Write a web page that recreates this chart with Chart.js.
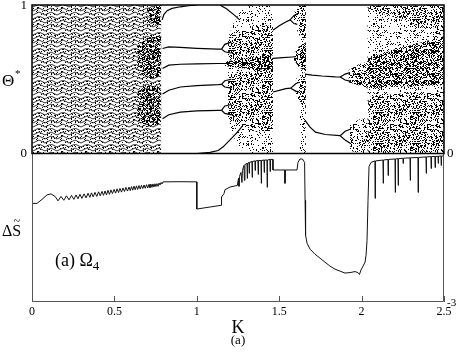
<!DOCTYPE html>
<html lang="en">
  <head>
    <meta charset="utf-8" />
    <title>Theta* and entropy change vs K</title>
    <script src="https://cdn.jsdelivr.net/npm/chart.js/dist/chart.umd.min.js"></script>
    <style>
      * { margin: 0; padding: 0; }
      body { background: #fff; }
      canvas { display: block; }
    </style>
  </head>
  <body>
    <canvas id="myChart" width="459" height="354"></canvas>
    <script>
      // K axis, units of 1e-3
      const kTicks = [0, 0.5, 1, 1.5, 2, 2.5];

      // lower panel: entropy change [K, dS], scaled so the panel bottom is -1
      const deltaS = [
        [0,-0.336],[0.030,-0.336],[0.061,-0.309],[0.091,-0.279],[0.115,-0.272],[0.140,-0.289],
        [0.158,-0.319],[0.176,-0.289],[0.193,-0.315],[0.209,-0.285],[0.225,-0.312],[0.240,-0.282],
        [0.254,-0.309],[0.267,-0.279],[0.279,-0.305],[0.291,-0.275],[0.303,-0.302],[0.316,-0.272],
        [0.328,-0.299],[0.340,-0.268],[0.351,-0.295],[0.361,-0.265],[0.371,-0.292],[0.382,-0.262],
        [0.393,-0.289],[0.404,-0.258],[0.414,-0.285],[0.425,-0.255],[0.434,-0.282],[0.443,-0.252],
        [0.452,-0.279],[0.461,-0.248],[0.470,-0.275],[0.479,-0.245],[0.488,-0.270],[0.498,-0.242],
        [0.507,-0.267],[0.516,-0.238],[0.525,-0.263],[0.534,-0.235],[0.543,-0.260],[0.552,-0.232],
        [0.561,-0.256],[0.570,-0.228],[0.579,-0.253],[0.589,-0.226],[0.596,-0.250],[0.604,-0.223],
        [0.611,-0.247],[0.619,-0.220],[0.626,-0.244],[0.634,-0.218],[0.641,-0.242],[0.649,-0.216],
        [0.657,-0.239],[0.664,-0.214],[0.672,-0.236],[0.680,-0.212],[0.687,-0.234],[0.695,-0.210],
        [0.702,-0.232],[0.710,-0.208],[0.716,-0.230],[0.722,-0.207],[0.728,-0.228],[0.734,-0.205],
        [0.740,-0.226],[0.746,-0.204],[0.752,-0.223],[0.758,-0.203],[0.765,-0.221],[0.771,-0.199],
        [0.777,-0.212],[0.783,-0.195],[0.789,-0.205],[0.795,-0.191],
        [0.898,-0.190],[1.0,-0.191],[1.0,-0.374],[1.147,-0.349],[1.150,-0.293],[1.165,-0.270],
        [1.171,-0.244],[1.201,-0.226],[1.246,-0.215],
        [1.253,-0.168],[1.256,-0.221],[1.259,-0.154],[1.268,-0.128],[1.274,-0.195],[1.277,-0.114],
        [1.286,-0.081],[1.289,-0.181],[1.292,-0.074],[1.305,-0.067],[1.306,-0.168],[1.308,-0.067],
        [1.317,-0.060],[1.318,-0.134],[1.320,-0.060],[1.335,-0.054],[1.336,-0.161],[1.338,-0.054],
        [1.353,-0.050],[1.354,-0.114],[1.356,-0.050],[1.371,-0.047],[1.373,-0.141],[1.374,-0.047],
        [1.390,-0.047],[1.391,-0.201],[1.393,-0.047],[1.408,-0.044],[1.409,-0.128],[1.411,-0.044],
        [1.426,-0.044],[1.427,-0.228],[1.429,-0.044],[1.444,-0.040],[1.445,-0.121],[1.447,-0.040],
        [1.462,-0.040],[1.462,-0.111],[1.535,-0.111],[1.535,-0.201],[1.537,-0.111],[1.608,-0.111],
        [1.614,-0.060],[1.626,-0.037],[1.641,-0.037],[1.654,-0.060],[1.657,-0.315],[1.660,-0.550],
        [1.669,-0.604],[1.687,-0.644],[1.717,-0.678],[1.748,-0.705],[1.778,-0.732],[1.808,-0.758],
        [1.839,-0.779],[1.869,-0.792],[1.899,-0.805],[1.930,-0.802],[1.960,-0.795],[1.978,-0.802],
        [1.987,-0.815],[1.996,-0.785],[2.009,-0.758],[2.021,-0.732],[2.027,-0.685],[2.033,-0.584],
        [2.039,-0.315],[2.045,-0.087],[2.057,-0.060],
        [2.081,-0.050],[2.082,-0.302],[2.084,-0.050],[2.130,-0.044],[2.131,-0.201],[2.133,-0.044],
        [2.160,-0.040],[2.161,-0.148],[2.163,-0.040],[2.203,-0.037],[2.204,-0.262],[2.206,-0.037],
        [2.221,-0.035],[2.222,-0.215],[2.224,-0.035],[2.251,-0.032],[2.252,-0.067],[2.254,-0.032],
        [2.294,-0.029],[2.295,-0.181],[2.297,-0.029],[2.342,-0.027],[2.343,-0.262],[2.345,-0.027],
        [2.391,-0.023],[2.392,-0.134],[2.394,-0.023],[2.421,-0.021],[2.422,-0.101],[2.424,-0.021],
        [2.445,-0.020],[2.446,-0.094],[2.448,-0.020],[2.464,-0.019],[2.465,-0.067],[2.467,-0.019],
        [2.482,-0.017],[2.483,-0.081],[2.485,-0.017],[2.5,-0.017]
      ];

      // upper panel: periodic branches of Theta* [K, theta]
      const p6a = [[0.790,0.90],[0.80,0.935],[0.82,0.962],[0.85,0.977],[0.90,0.988],[0.95,0.995],[1.0,1.0]];
      const p6b = [[0.792,0.707],[0.83,0.718],[0.90,0.714],[1.0,0.708],[1.13,0.703],[1.15,0.703]];
      const p6c = [[0.792,0.572],[0.83,0.595],[0.90,0.601],[1.0,0.604],[1.13,0.606],[1.22,0.606]];
      const p6d = [[0.792,0.40],[0.83,0.426],[0.90,0.448],[1.0,0.457],[1.13,0.464],[1.15,0.466]];
      const p6e = [[0.792,0.234],[0.83,0.261],[0.90,0.279],[1.0,0.287],[1.13,0.291],[1.15,0.291]];
      const p6f = [[1.0,0.0],[1.08,0.008],[1.13,0.02],[1.16,0.045],[1.20,0.09],[1.24,0.135],[1.28,0.19]];
      const p6top = [[1.14,1.0],[1.18,0.975],[1.23,0.93],[1.26,0.90]];
      const p6bUp = [[1.15,0.703],[1.17,0.735],[1.21,0.75]];
      const p6bDn = [[1.15,0.703],[1.17,0.685],[1.21,0.675]];
      const p6dUp = [[1.15,0.466],[1.17,0.49],[1.21,0.50]];
      const p6dDn = [[1.15,0.466],[1.17,0.448],[1.21,0.44]];
      const p6eUp = [[1.15,0.291],[1.17,0.32],[1.21,0.33]];
      const p6eDn = [[1.15,0.291],[1.17,0.27],[1.21,0.26]];
      const p3a = [[1.462,0.83],[1.50,0.86],[1.54,0.885],[1.566,0.90]];
      const p3aUp = [[1.566,0.90],[1.59,0.93],[1.61,0.94]];
      const p3aDn = [[1.566,0.90],[1.59,0.875],[1.61,0.87]];
      const p3b = [[1.462,0.64],[1.52,0.645],[1.58,0.65],[1.60,0.652]];
      const p3c = [[1.462,0.414],[1.50,0.425],[1.54,0.437],[1.57,0.44]];
      const p3cUp = [[1.57,0.44],[1.60,0.47],[1.62,0.48]];
      const p3cDn = [[1.57,0.44],[1.60,0.42],[1.62,0.415]];
      const p2u = [[1.657,0.534],[1.70,0.528],[1.76,0.522],[1.84,0.516],[1.87,0.515]];
      const p2uUp = [[1.87,0.515],[1.90,0.535],[1.93,0.545]];
      const p2uDn = [[1.87,0.515],[1.90,0.495],[1.93,0.487]];
      const p2l = [[1.657,0.223],[1.687,0.178],[1.72,0.144],[1.78,0.128],[1.87,0.12]];
      const p2lUp = [[1.87,0.12],[1.90,0.15],[1.935,0.165]];
      const p2lDn = [[1.87,0.12],[1.90,0.09],[1.935,0.066]];

      // upper panel: scattered (chaotic / quasi-periodic) bands [K, low, high]
      const quasiBand = [[0,0,1],[0.785,0,1]];
      const quasiDarkA = [[0.64,0.56,0.72],[0.70,0.50,0.78],[0.785,0.52,0.80]];
      const quasiDarkB = [[0.64,0.22,0.42],[0.70,0.18,0.46],[0.785,0.20,0.45]];
      const quasiDarkC = [[0.70,0.88,0.98],[0.785,0.86,1.0]];
      const chaosA = [[1.19,0.25,0.78],[1.22,0.12,0.87],[1.26,0.03,0.95],[1.30,0,1],[1.462,0,1]];
      const fanA = [[1.19,0.66,0.76],[1.25,0.60,0.82],[1.35,0.55,0.86],[1.462,0.50,0.86]];
      const fanB = [[1.19,0.25,0.51],[1.25,0.20,0.55],[1.35,0.15,0.55],[1.462,0.15,0.52]];
      const streakA = [[1.17,0.59,0.62],[1.30,0.57,0.64],[1.462,0.56,0.66]];
      const fanP3a = [[1.59,0.88,0.95],[1.62,0.80,1.0],[1.662,0.75,1.0]];
      const fanP3b = [[1.59,0.63,0.67],[1.62,0.58,0.72],[1.662,0.55,0.75]];
      const fanP3c = [[1.60,0.40,0.50],[1.63,0.33,0.53],[1.662,0.30,0.55]];
      const crisisStrip = [[1.625,0,1],[1.662,0,1]];
      const fanP2u = [[1.92,0.48,0.56],[1.98,0.46,0.60],[2.04,0.44,0.62]];
      const fanP2l = [[1.93,0.02,0.20],[1.99,0.0,0.23],[2.04,0,0.24]];
      const chaosB = [[2.035,0,1],[2.5,0,1]];
      const fanC = [[2.035,0.44,0.64],[2.2,0.45,0.70],[2.5,0.46,0.79]];
      const topC = [[2.04,0.97,1],[2.25,0.90,1],[2.5,0.79,1]];
      const lowC = [[2.04,0,0.38],[2.2,0,0.40],[2.5,0,0.42]];

      const serif = "'Liberation Serif', 'Times New Roman', serif";
      const ctx = document.getElementById("myChart").getContext("2d");

      // speckle textures for the scattered-point regions (styling only)
      function noise(i, j, seed) {
        const h = Math.sin(i * 12.9898 + j * 78.233 + seed * 37.719) * 43758.5453;
        return h - Math.floor(h);
      }
      function speckle(density, seed) {
        const c = document.createElement("canvas");
        c.width = 37; c.height = 31;
        const g = c.getContext("2d");
        g.fillStyle = "#000";
        for (let i = 0; i < c.width; i++)
          for (let j = 0; j < c.height; j++)
            if (noise(i, j, seed) < density) g.fillRect(i, j, 1, 1);
        return ctx.createPattern(c, "repeat");
      }
      const sparse = speckle(0.13, 1);
      const medium = speckle(0.24, 2);
      const dense = speckle(0.38, 3);
      const quasi = (() => {
        const c = document.createElement("canvas");
        c.width = 24; c.height = 16;
        const g = c.getContext("2d");
        g.strokeStyle = "#000"; g.lineWidth = 0.8;
        for (let r = 0; r < 4; r++) {
          const y0 = r * 4 + 1.5;
          g.beginPath();
          g.moveTo(0, y0);
          g.lineTo(3, y0 - 1.5); g.lineTo(6, y0); g.lineTo(9, y0 + 1.5);
          g.lineTo(12, y0); g.lineTo(15, y0 - 1.5); g.lineTo(18, y0);
          g.lineTo(21, y0 + 1.5); g.lineTo(24, y0);
          g.stroke();
        }
        g.fillStyle = "#000";
        for (let i = 0; i < c.width; i++)
          for (let j = 0; j < c.height; j++)
            if (noise(i, j, 9) < 0.12) g.fillRect(i, j, 1, 1);
        return ctx.createPattern(c, "repeat");
      })();

      const datasets = [];
      const xy = (arr) => arr.map(([k, v]) => ({ x: k, y: v }));

      function addLine(arr, width, color) {
        datasets.push({ data: xy(arr), borderColor: color || "#000", borderWidth: width || 1.2, fill: false, order: 0 });
      }
      function addBand(rows, pattern, order) {
        datasets.push({ data: rows.map(r => ({ x: r[0], y: r[1] })), borderWidth: 0, fill: false, order });
        datasets.push({ data: rows.map(r => ({ x: r[0], y: r[2] })), borderWidth: 0, backgroundColor: pattern, fill: "-1", order });
      }

      [p6a, p6b, p6c, p6d, p6e, p6f, p6top, p6bUp, p6bDn, p6dUp, p6dDn, p6eUp, p6eDn,
       p3a, p3aUp, p3aDn, p3b, p3c, p3cUp, p3cDn, p2u, p2uUp, p2uDn, p2l, p2lUp, p2lDn].forEach(b => addLine(b));
      addLine(deltaS, 1, "#111");

      addBand(quasiDarkA, dense, 1);
      addBand(quasiDarkB, dense, 1);
      addBand(quasiDarkC, dense, 1);
      addBand(streakA, dense, 1);
      addBand(fanC, dense, 1);
      addBand(fanA, medium, 2);
      addBand(fanB, medium, 2);
      addBand(fanP3a, medium, 2);
      addBand(fanP3b, dense, 2);
      addBand(fanP3c, medium, 2);
      addBand(fanP2u, dense, 2);
      addBand(fanP2l, medium, 2);
      addBand(topC, medium, 2);
      addBand(lowC, medium, 2);
      addBand(chaosA, sparse, 3);
      addBand(crisisStrip, sparse, 3);
      addBand(chaosB, sparse, 3);
      addBand(quasiBand, quasi, 4);

      const frame = {
        id: "frame",
        afterDatasetsDraw(chart) {
          const { ctx, chartArea: a, scales: { x, y } } = chart;
          const mid = y.getPixelForValue(0);
          ctx.save();
          // lower panel box and inward ticks
          ctx.strokeStyle = "#555";
          ctx.lineWidth = 1;
          ctx.beginPath();
          ctx.moveTo(a.left + 0.5, mid);
          ctx.lineTo(a.left + 0.5, a.bottom - 0.5);
          ctx.lineTo(a.right - 0.5, a.bottom - 0.5);
          ctx.lineTo(a.right - 0.5, mid);
          kTicks.forEach(k => {
            const px = Math.round(x.getPixelForValue(k)) + 0.5;
            ctx.moveTo(px, a.bottom);
            ctx.lineTo(px, a.bottom - 6);
          });
          ctx.stroke();
          // upper panel box
          ctx.strokeStyle = "#000";
          ctx.lineWidth = 1.5;
          ctx.strokeRect(a.left, a.top, a.right - a.left, mid - a.top);
          ctx.restore();
        },
        afterDraw(chart) {
          const { ctx, chartArea: a, scales: { y } } = chart;
          ctx.save();
          ctx.fillStyle = "#000";

          // Theta axis numbers (1 at top, 0 on the shared line, both sides)
          ctx.font = `13px ${serif}`;
          ctx.textBaseline = "middle";
          ctx.textAlign = "right";
          ctx.fillText("1", a.left - 5, y.getPixelForValue(1) + 1);
          ctx.fillText("0", a.left - 5, y.getPixelForValue(0));
          ctx.textAlign = "left";
          ctx.fillText("0", a.right + 3, y.getPixelForValue(0));

          ctx.textBaseline = "alphabetic";
          ctx.font = `17px ${serif}`;
          ctx.fillText("\u0398", 2, 86);
          ctx.font = `11px ${serif}`;
          ctx.fillText("*", 15, 77);

          ctx.font = `16px ${serif}`;
          ctx.fillText("\u0394S", 2, 236);
          const wd = ctx.measureText("\u0394").width;
          const ws = ctx.measureText("S").width;
          ctx.font = `12px ${serif}`;
          ctx.textAlign = "center";
          ctx.fillText("~", 2 + wd + ws / 2, 225);

          ctx.textAlign = "left";
          ctx.font = `18px ${serif}`;
          ctx.fillText("(a) \u03a9", 55, 266);
          const wa = ctx.measureText("(a) \u03a9").width;
          ctx.font = `13px ${serif}`;
          ctx.fillText("4", 55 + wa, 270);

          ctx.textAlign = "center";
          ctx.font = `18px ${serif}`;
          ctx.fillText("K", 238, 333);
          ctx.font = `13px ${serif}`;
          ctx.fillText("(a)", 238, 344);

          ctx.textAlign = "left";
          ctx.font = `11px ${serif}`;
          ctx.fillText("-3", 447, 306);
          ctx.restore();
        }
      };

      const config = {
        type: "line",
        data: { datasets },
        options: {
          responsive: false,
          animation: false,
          layout: { padding: { top: 5 } },
          elements: { point: { radius: 0 }, line: { tension: 0 } },
          plugins: {
            legend: { display: false },
            tooltip: { enabled: false },
          },
          scales: {
            x: {
              type: "linear",
              min: 0,
              max: 2.5,
              grid: { display: false, drawTicks: false },
              border: { display: false },
              afterBuildTicks: (s) => { s.ticks = kTicks.map(v => ({ value: v })); },
              afterFit: (s) => { s.height = 52; },
              ticks: {
                autoSkip: false,
                maxRotation: 0,
                padding: 3,
                color: "#000",
                font: { family: serif, size: 12 },
                callback: (v) => String(v),
              },
            },
            y: {
              min: -1,
              max: 1,
              grid: { display: false, drawTicks: false },
              border: { display: false },
              ticks: { display: false },
              afterFit: (s) => { s.width = 32; },
            },
            yRight: {
              position: "right",
              min: -1,
              max: 1,
              grid: { display: false, drawTicks: false },
              border: { display: false },
              ticks: { display: false },
              afterFit: (s) => { s.width = 15; },
            },
          },
        },
        plugins: [frame],
      };

      const myChart = new Chart(ctx, config);
    </script>
  </body>
</html>
